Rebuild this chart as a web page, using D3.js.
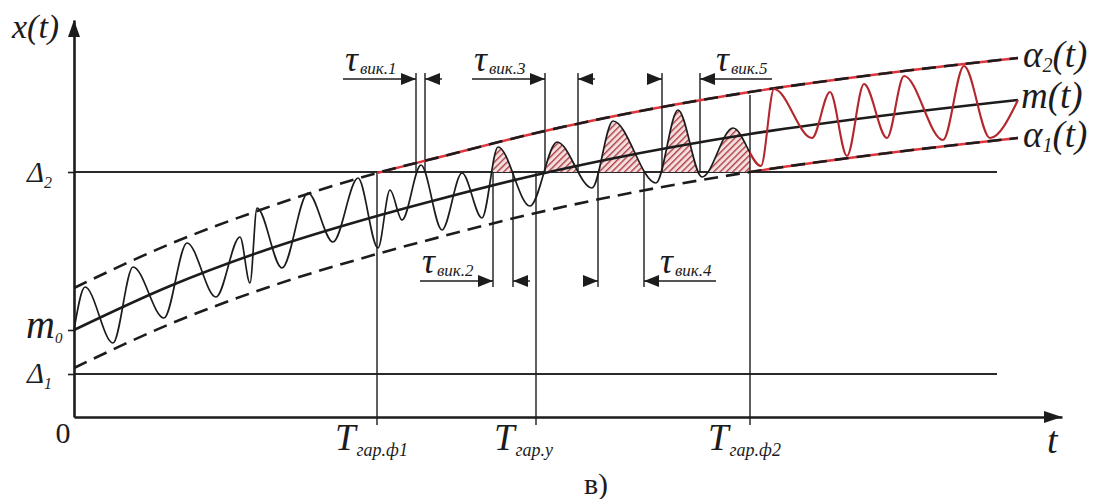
<!DOCTYPE html>
<html><head><meta charset="utf-8">
<script src="https://cdn.jsdelivr.net/npm/d3@7"></script>
<style>html,body{margin:0;padding:0;background:#fff;} svg{display:block;}</style>
</head><body>
<svg id="chart" width="1098" height="499"></svg>
<script>
// Mean trend m(t) and the tolerance envelopes α1(t), α2(t), sampled at meanT
const meanT  = [0, 9.6, 18.6, 30.3, 36.6, 46.2, 53.6, 67.6, 80.6, 94.4];
const meanV  = [8.7, 13.1, 16.5, 20.1, 21.8, 24.2, 25.8, 28.3, 30.1, 31.7];
const upperV = [12.9, 17.3, 20.7, 24.4, 26.0, 28.4, 30.0, 32.5, 34.3, 35.9];
const lowerV = [4.9, 9.3, 12.7, 16.3, 18.0, 20.4, 22.0, 24.5, 26.3, 27.9];

// Realisation x(t): turning points of the oscillation
const signalT = [0, 1.1, 3.9, 5.9, 9.0, 11.3, 14.2, 16.6, 17.6, 18.3, 20.8, 23.4, 25.9, 28.4,
  30.4, 31.6, 32.8, 34.7, 36.8, 38.8, 40.8, 42.4, 45.6, 48.3, 51.8, 53.9, 58.2, 60.4, 62.8,
  65.9, 68.7, 70.0, 73.8, 75.6, 77.3, 79.0, 81.3, 83.0, 86.9, 89.0, 91.6, 94.4];
const signalV = [8.7, 13.0, 7.4, 15.0, 9.9, 17.4, 12.0, 18.0, 13.4, 20.9, 14.9, 22.4, 17.5, 23.9,
  16.9, 22.7, 19.7, 25.2, 18.7, 24.4, 19.9, 27.0, 21.1, 27.5, 22.9, 29.6, 23.4, 30.7, 24.0,
  28.9, 25.1, 32.8, 27.9, 32.5, 26.1, 33.3, 27.9, 34.1, 27.7, 35.1, 27.9, 31.7];

// Tolerance limits and initial mean
const delta1 = 4.3, delta2 = 24.5, m0 = 8.7;

// Guaranteed-time moments on the t axis
const thresholdT = [30.3, 46.2, 67.6];
const thresholdSub = ["гар.ф1", "гар.у", "гар.ф2"];

// Excursion intervals τвик.i above Δ2
const tauStart = [34.2, 41.9, 47.1, 52.4, 58.8];
const tauEnd   = [35.1, 43.9, 50.4, 57.0, 62.6];
const tauSub   = ["вик.1", "вик.2", "вик.3", "вик.4", "вик.5"];

// Shaded zone of excursions after Tгар.у
const hatchT = [41.9, 67.6];

const svg = d3.select("#chart");
const x = d3.scaleLinear().domain([0, 98.8]).range([74, 1062]);
const y = d3.scaleLinear().domain([0, 39.7]).range([417, 20]);

const INK = "#1c1c1c", RED = "#b3262c", RED_LIGHT = "#e0353d";
const FONT = "'Liberation Serif', 'Times New Roman', serif";

const defs = svg.append("defs");
const pat = defs.append("pattern").attr("id", "hatch")
  .attr("patternUnits", "userSpaceOnUse").attr("width", 4.5).attr("height", 4.5)
  .attr("patternTransform", "rotate(45)");
pat.append("rect").attr("width", 4.5).attr("height", 4.5).attr("fill", "#f4dede");
pat.append("line").attr("x1", 0.7).attr("y1", 0).attr("x2", 0.7).attr("y2", 4.5)
  .attr("stroke", "#a8353c").attr("stroke-width", 1.3);

function clipRect(id, x0, x1, y0, y1) {
  defs.append("clipPath").attr("id", id).append("rect")
    .attr("x", x0).attr("y", y0).attr("width", x1 - x0).attr("height", y1 - y0);
}
clipRect("clipBlack", 0, x(thresholdT[2]), 0, 499);
clipRect("clipRed", x(thresholdT[2]), 1098, 0, 499);
clipRect("clipUpperRed", x(thresholdT[0]), 1098, 0, 499);
clipRect("clipLowerRed", x(thresholdT[2]), 1098, 0, 499);
clipRect("clipHatch", x(hatchT[0]), x(hatchT[1]), 0, y(delta2));

const line = d3.line().x(d => x(d[0])).y(d => y(d[1])).curve(d3.curveMonotoneX);
const meanPts  = meanT.map((t, i) => [t, meanV[i]]);
const upperPts = meanT.map((t, i) => [t, upperV[i]]);
const lowerPts = meanT.map((t, i) => [t, lowerV[i]]);
const sigPts   = signalT.map((t, i) => [t, signalV[i]]);

// Tolerance levels Δ1, Δ2
[delta1, delta2].forEach(v => {
  svg.append("line").attr("x1", x(0)).attr("x2", 997)
    .attr("y1", y(v)).attr("y2", y(v))
    .attr("stroke", "#2a2a2a").attr("stroke-width", 2);
});

// Hatched excursions between x(t) and Δ2
const area = d3.area().x(d => x(d[0])).y0(y(delta2)).y1(d => y(d[1])).curve(d3.curveMonotoneX);
svg.append("path").datum(sigPts).attr("d", area)
  .attr("fill", "url(#hatch)").attr("clip-path", "url(#clipHatch)");

// Vertical markers for guaranteed times
thresholdT.forEach((t, i) => {
  const top = i === 2 ? y(upperV[7]) + 3 : y(delta2);
  svg.append("line").attr("x1", x(t)).attr("x2", x(t)).attr("y1", top).attr("y2", y(0) + 8)
    .attr("stroke", INK).attr("stroke-width", 1.4);
});

// Excursion markers with dimension arrows
const ARROW_TOP = 79, ARROW_BOTTOM = 281;
function arrowHead(xTip, yy, dir) {
  const L = 15, H = 6;
  svg.append("path")
    .attr("d", `M${xTip},${yy} L${xTip - dir * L},${yy - H} L${xTip - dir * L},${yy + H} Z`)
    .attr("fill", INK);
}
tauStart.forEach((t0, i) => {
  const t1 = tauEnd[i];
  const above = i % 2 === 0;
  const row = above ? ARROW_TOP : ARROW_BOTTOM;
  const x0 = x(t0), x1 = x(t1);
  const lineEnd = above ? row - 6 : row + 6;
  [x0, x1].forEach(xx => {
    svg.append("line").attr("x1", xx).attr("x2", xx).attr("y1", y(delta2)).attr("y2", lineEnd)
      .attr("stroke", INK).attr("stroke-width", 1.4);
  });
  const longLeft = i < 3;
  const leftTail = longLeft ? 73 : 15;
  const rightTail = longLeft ? 17 : 72;
  svg.append("line").attr("x1", x0 - leftTail).attr("x2", x0).attr("y1", row).attr("y2", row)
    .attr("stroke", INK).attr("stroke-width", 1.4);
  svg.append("line").attr("x1", x1).attr("x2", x1 + rightTail).attr("y1", row).attr("y2", row)
    .attr("stroke", INK).attr("stroke-width", 1.4);
  arrowHead(x0, row, 1);
  arrowHead(x1, row, -1);
  const lx = longLeft ? x0 - leftTail + 2 : x1 + 16;
  const tx = svg.append("text").attr("x", lx).attr("y", row - 8)
    .attr("font-family", FONT).attr("font-style", "italic").attr("fill", INK);
  tx.append("tspan").attr("font-size", 36).text("τ");
  tx.append("tspan").attr("font-size", 17).attr("dx", 2).attr("dy", 3).text(tauSub[i]);
});

// Mean m(t)
svg.append("path").datum(meanPts).attr("d", line)
  .attr("fill", "none").attr("stroke", INK).attr("stroke-width", 2.6);

// Envelopes: red underlay where the bounds are active, black dashes on top
svg.append("path").datum(upperPts).attr("d", line).attr("clip-path", "url(#clipUpperRed)")
  .attr("fill", "none").attr("stroke", RED_LIGHT).attr("stroke-width", 2.4);
svg.append("path").datum(lowerPts).attr("d", line).attr("clip-path", "url(#clipLowerRed)")
  .attr("fill", "none").attr("stroke", RED_LIGHT).attr("stroke-width", 2.4);
[upperPts, lowerPts].forEach(pts => {
  svg.append("path").datum(pts).attr("d", line)
    .attr("fill", "none").attr("stroke", INK).attr("stroke-width", 2.6)
    .attr("stroke-dasharray", "14,8");
});

// Realisation x(t): black before Tгар.ф2, red after
svg.append("path").datum(sigPts).attr("d", line).attr("clip-path", "url(#clipBlack)")
  .attr("fill", "none").attr("stroke", INK).attr("stroke-width", 1.7);
svg.append("path").datum(sigPts).attr("d", line).attr("clip-path", "url(#clipRed)")
  .attr("fill", "none").attr("stroke", RED).attr("stroke-width", 2.1);

// Axes
const yAxis = d3.axisLeft(y).tickValues([delta1, m0, delta2]).tickSize(6).tickSizeOuter(0).tickFormat("");
const gy = svg.append("g").attr("transform", `translate(${x(0)},0)`).call(yAxis);
gy.select(".domain").attr("stroke", INK).attr("stroke-width", 2.6);
gy.selectAll(".tick line").attr("stroke", INK).attr("stroke-width", 1.6);
const xAxis = d3.axisBottom(x).tickValues([]).tickSizeOuter(0);
const gx = svg.append("g").attr("transform", `translate(0,${y(0)})`).call(xAxis);
gx.select(".domain").attr("stroke", INK).attr("stroke-width", 2.6);

// Arrowheads of the axes
svg.append("path").attr("d", `M${x(0)},${y(39.7)} L${x(0) - 6},${y(39.7) + 17} L${x(0) + 6},${y(39.7) + 17} Z`).attr("fill", INK);
svg.append("path").attr("d", `M${x(98.8)},${y(0)} L${x(98.8) - 18},${y(0) - 6} L${x(98.8) - 18},${y(0) + 6} Z`).attr("fill", INK);

// Text helpers
function subLabel(xx, yy, main, sub, mainSize, subSize, tail, opts = {}) {
  const t = svg.append("text").attr("x", xx).attr("y", yy)
    .attr("font-family", FONT).attr("font-style", "italic").attr("fill", INK);
  t.append("tspan").attr("font-size", mainSize).text(main);
  if (sub) t.append("tspan").attr("font-size", subSize).attr("dx", opts.subDx || 0).attr("dy", opts.subDy || 5).text(sub);
  if (tail) t.append("tspan").attr("font-size", mainSize).attr("dy", -(opts.subDy || 5)).text(tail);
  return t;
}

subLabel(12, 38, "x(t)", null, 34);
subLabel(27, y(delta2) + 10, "Δ", "2", 29, 16, null, {subDy: 6});
subLabel(26, y(m0) + 8, "m", "0", 40, 15, null, {subDy: 5});
subLabel(27, y(delta1) + 9, "Δ", "1", 29, 16, null, {subDy: 6});
svg.append("text").attr("x", 63).attr("y", 443).attr("text-anchor", "middle")
  .attr("font-family", FONT).attr("font-size", 30).attr("fill", INK).text("0");

thresholdT.forEach((t, i) => {
  subLabel(x(t) - 42, 450, "T", thresholdSub[i], 37, 18, null, {subDx: 1, subDy: 6});
});
subLabel(1047, 453, "t", null, 38);

subLabel(1023, 67, "α", "2", 37, 20, "(t)", {subDy: 5});
subLabel(1021, 108, "m(t)", null, 37);
subLabel(1023, 147, "α", "1", 37, 20, "(t)", {subDy: 5});

svg.append("text").attr("x", 596).attr("y", 494).attr("text-anchor", "middle")
  .attr("font-family", FONT).attr("font-size", 30).attr("fill", INK).text("в)");
</script>
</body></html>
